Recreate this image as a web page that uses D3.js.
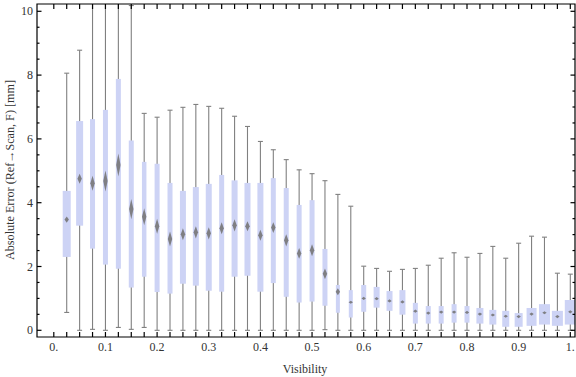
<!DOCTYPE html>
<html lang="en">
<head>
<meta charset="utf-8">
<title>Absolute error vs visibility</title>
<script src="https://cdn.jsdelivr.net/npm/d3@7"></script>
<style>
  html, body { margin: 0; padding: 0; background: #fff; }
  text { font-family: "Liberation Serif", "DejaVu Serif", serif; fill: #333; }
</style>
</head>
<body>
<script>
// box-whisker data, one entry per visibility bin
let visibility = [0.025,0.05,0.075,0.1,0.125,0.15,0.175,0.2,0.225,0.25,0.275,0.3,0.325,0.35,0.375,0.4,
                  0.425,0.45,0.475,0.5,0.525,0.55,0.575,0.6,0.625,0.65,0.675,0.7,0.725,0.75,0.775,0.8,
                  0.825,0.85,0.875,0.9,0.925,0.95,0.975,1.0];
let lowWhisker = [0.56,0,0.03,0,0.09,0.03,0.09,0,0,0,0,0,0,0,0,0,0,0,0,0,0.02,0,0,0,0,0,0,0,0,0,0,0,0,0,0,0,0,0,0,0];
let q1 = [2.30,3.28,2.56,2.06,1.93,1.34,1.68,1.20,1.15,1.46,1.40,1.24,1.21,1.68,1.71,1.21,1.48,1.05,0.87,0.90,
          0.77,0.55,0.40,0.58,0.71,0.61,0.49,0.21,0.21,0.21,0.24,0.24,0.21,0.18,0.11,0.11,0.14,0.18,0.14,0.18];
let median = [3.47,4.75,4.61,4.68,5.18,3.80,3.56,3.26,2.86,3.01,3.07,3.04,3.20,3.29,3.26,2.98,3.22,2.82,2.41,2.51,
              1.77,1.21,0.88,1.00,0.99,0.92,0.89,0.60,0.54,0.57,0.57,0.56,0.51,0.48,0.44,0.43,0.51,0.55,0.43,0.58];
let q3 = [4.37,6.56,6.62,6.91,7.88,5.95,5.28,5.22,4.62,4.37,4.49,4.59,4.87,4.70,4.62,4.62,4.77,4.46,3.93,4.08,
          2.55,1.42,1.26,1.42,1.36,1.23,1.26,0.86,0.76,0.76,0.82,0.76,0.70,0.64,0.61,0.54,0.70,0.82,0.61,0.95];
let highWhisker = [8.06,8.78,11.5,12.0,11.2,10.18,6.80,6.68,6.90,6.99,7.08,7.02,6.96,6.71,6.39,5.92,5.66,5.35,5.03,4.91,
                   4.69,4.26,3.89,2.01,1.94,1.85,1.91,1.94,2.04,2.26,2.43,2.29,2.41,2.63,2.26,2.73,2.95,2.92,1.79,1.76];
// median notch extent (mm) and relative sample weight of each bin
let notch = [0.19,0.31,0.47,0.66,0.72,0.63,0.53,0.47,0.47,0.38,0.38,0.38,0.38,0.38,0.31,0.34,0.34,0.38,0.34,0.38,
             0.34,0.22,0.10,0.10,0.10,0.10,0.10,0.10,0.10,0.10,0.10,0.10,0.10,0.10,0.10,0.10,0.10,0.10,0.10,0.10];
let weight = [8,7,5,5,5,5,4.5,5,5,6,6,6,5,6,6,6,5,5,5,5,5,4,4,5,6,6,6,5,5,5,5,5,7,7,7,8,10,11,11,11];

let xTickLabels = ["0.","0.1","0.2","0.3","0.4","0.5","0.6","0.7","0.8","0.9","1."];
let xTickValues = [0,0.1,0.2,0.3,0.4,0.5,0.6,0.7,0.8,0.9,1.0];
let yTickValues = [0,2,4,6,8,10];

let w = 576, h = 377;
let pLeft = 37, pRight = 575, pTop = 4, pBottom = 337;

let svg = d3.select("body").append("svg")
  .attr("width", w).attr("height", h);

let xScale = d3.scaleLinear().domain([0, 1]).range([53.8, 570.3]);
let yScale = d3.scaleLinear().domain([0, 10]).range([330.3, 11.3]);

let defs = svg.append("defs");
defs.append("clipPath").attr("id", "plot")
  .append("rect").attr("x", pLeft).attr("y", pTop)
  .attr("width", pRight - pLeft).attr("height", pBottom - pTop);
defs.append("filter").attr("id", "soft")
  .append("feGaussianBlur").attr("stdDeviation", 0.5);

let data = visibility.map((v, i) => ({
  x: v, lo: lowWhisker[i], q1: q1[i], med: median[i], q3: q3[i], hi: highWhisker[i],
  notch: notch[i], wt: weight[i]
}));

let g = svg.append("g").attr("clip-path", "url(#plot)");

// whiskers
g.selectAll("line.wh").data(data).enter().append("line")
  .attr("x1", d => xScale(d.x)).attr("x2", d => xScale(d.x))
  .attr("y1", d => yScale(d.lo)).attr("y2", d => yScale(d.hi))
  .attr("stroke", "#808080").attr("stroke-width", 1.1);

["lo", "hi"].forEach(k => {
  g.selectAll("line.cap" + k).data(data).enter().append("line")
    .attr("x1", d => xScale(d.x) - 2.5).attr("x2", d => xScale(d.x) + 2.5)
    .attr("y1", d => yScale(d[k])).attr("y2", d => yScale(d[k]))
    .attr("stroke", "#808080").attr("stroke-width", 1.1);
});

// boxes
g.selectAll("rect.box").data(data).enter().append("rect")
  .attr("x", d => xScale(d.x) - d.wt / 2)
  .attr("width", d => d.wt)
  .attr("y", d => yScale(d.q3))
  .attr("height", d => yScale(d.q1) - yScale(d.q3))
  .attr("fill", "#cdd3f5");

// median diamonds
g.selectAll("path.med").data(data).enter().append("path")
  .attr("d", d => {
    let cx = xScale(d.x), cy = yScale(d.med);
    let hh = (yScale(0) - yScale(d.notch)) / 2;
    return `M${cx},${cy - hh}L${cx + 2.2},${cy}L${cx},${cy + hh}L${cx - 2.2},${cy}Z`;
  })
  .attr("fill", "#777").attr("opacity", 0.9)
  .attr("filter", "url(#soft)");

// frame
let frame = svg.append("g").attr("stroke", "#000").attr("stroke-width", 1.2).attr("fill", "none");
frame.append("path").attr("d", `M${pLeft},${pTop}H${pRight}V${pBottom}H${pLeft}Z`);

// x ticks (bottom and top), one per bin plus zero
let xt = [0].concat(visibility);
xt.forEach(v => {
  let px = xScale(v);
  frame.append("line").attr("x1", px).attr("x2", px).attr("y1", pBottom).attr("y2", pBottom - 5);
  frame.append("line").attr("x1", px).attr("x2", px).attr("y1", pTop).attr("y2", pTop + 5);
});

// y ticks: major every 2, minor every 0.5
for (let k = 0; k <= 20; k++) {
  let v = k * 0.5;
  let py = yScale(v);
  let len = (v % 2 === 0) ? 4.5 : 2.5;
  frame.append("line").attr("x1", pLeft).attr("x2", pLeft + len).attr("y1", py).attr("y2", py);
  frame.append("line").attr("x1", pRight).attr("x2", pRight - len).attr("y1", py).attr("y2", py);
}

// tick labels
svg.selectAll("text.xl").data(xTickValues).enter().append("text")
  .attr("x", d => xScale(d)).attr("y", 351)
  .attr("text-anchor", "middle").attr("font-size", 12)
  .text((d, i) => xTickLabels[i]);

svg.selectAll("text.yl").data(yTickValues).enter().append("text")
  .attr("x", 33).attr("y", d => yScale(d) + 4)
  .attr("text-anchor", "end").attr("font-size", 12)
  .text(d => d);

svg.append("text").attr("x", 305).attr("y", 373)
  .attr("text-anchor", "middle").attr("font-size", 12).text("Visibility");

svg.append("text")
  .attr("transform", "translate(14,170) rotate(-90)")
  .attr("text-anchor", "middle").attr("font-size", 12)
  .attr("textLength", 180).attr("lengthAdjust", "spacingAndGlyphs")
  .text("Absolute Error (Ref\u2192Scan, F) [mm]");
</script>
</body>
</html>
